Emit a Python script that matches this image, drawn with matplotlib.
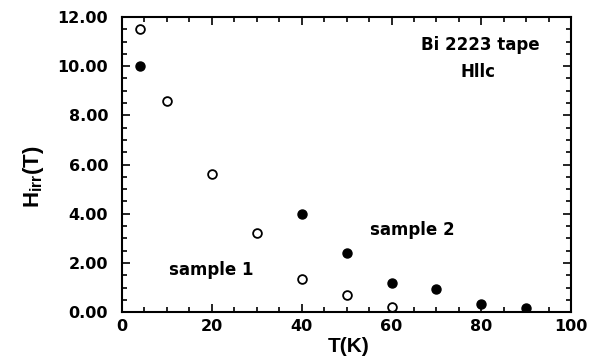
import numpy as np
import matplotlib
matplotlib.use('Agg')
import matplotlib.pyplot as plt
from matplotlib.ticker import MultipleLocator, FormatStrFormatter

plt.rcParams['font.family'] = ['DejaVu Sans']
plt.rcParams['font.weight'] = 'bold'
plt.rcParams['mathtext.fontset'] = 'custom'
plt.rcParams['mathtext.bf'] = 'Liberation Sans:bold'
plt.rcParams['mathtext.rm'] = 'Liberation Sans:bold'

# sample 1 (open circles)
t1 = [4, 10, 20, 30, 40, 50, 60]
h1 = [11.5, 8.6, 5.6, 3.2, 1.35, 0.7, 0.2]
# sample 2 (filled circles)
t2 = [4, 40, 50, 60, 70, 80, 90]
h2 = [10.0, 4.0, 2.4, 1.2, 0.93, 0.33, 0.17]

fig = plt.figure(figsize=(6.07, 3.6), dpi=100)
ax = fig.add_axes([0.201, 0.133, 0.74, 0.82])

ax.plot(t1, h1, 'o', mfc='white', mec='black', mew=1.3, ms=6.3, ls='none')
ax.plot(t2, h2, 'o', color='black', ms=6.5, ls='none')

ax.set_xlim(0, 100)
ax.set_ylim(0, 12)
ax.xaxis.set_major_locator(MultipleLocator(20))
ax.xaxis.set_minor_locator(MultipleLocator(5))
ax.yaxis.set_major_locator(MultipleLocator(2))
ax.yaxis.set_minor_locator(MultipleLocator(0.5))
ax.yaxis.set_major_formatter(FormatStrFormatter('%.2f'))
ax.tick_params(which='both', direction='in', top=True, right=True, width=1.2)
ax.tick_params(which='major', length=6, labelsize=11.5)
ax.tick_params(which='minor', length=3.5)
ax.tick_params(axis='y', pad=10)
ax.tick_params(axis='x', pad=5)
for lbl in ax.get_xticklabels() + ax.get_yticklabels():
    lbl.set_fontweight('bold')
for s in ax.spines.values():
    s.set_linewidth(1.5)

ax.set_xlabel('T(K)', fontsize=15, fontweight='bold', family='Liberation Sans')
ax.xaxis.set_label_coords(0.505, -0.085)
ax.set_ylabel(r'$\mathbf{H_{irr}(T)}$', fontsize=16)
ax.yaxis.set_label_coords(-0.17, 0.46)

ax.text(79.7, 10.85, 'Bi 2223 tape', fontsize=12, fontweight='bold', ha='center', va='center')
ax.text(79.2, 9.76, 'Hllc', fontsize=12, fontweight='bold', ha='center', va='center')
ax.text(64.7, 3.33, 'sample 2', fontsize=12, fontweight='bold', ha='center', va='center')
ax.text(19.9, 1.7, 'sample 1', fontsize=12, fontweight='bold', ha='center', va='center')

fig.savefig('out.png', dpi=100)
